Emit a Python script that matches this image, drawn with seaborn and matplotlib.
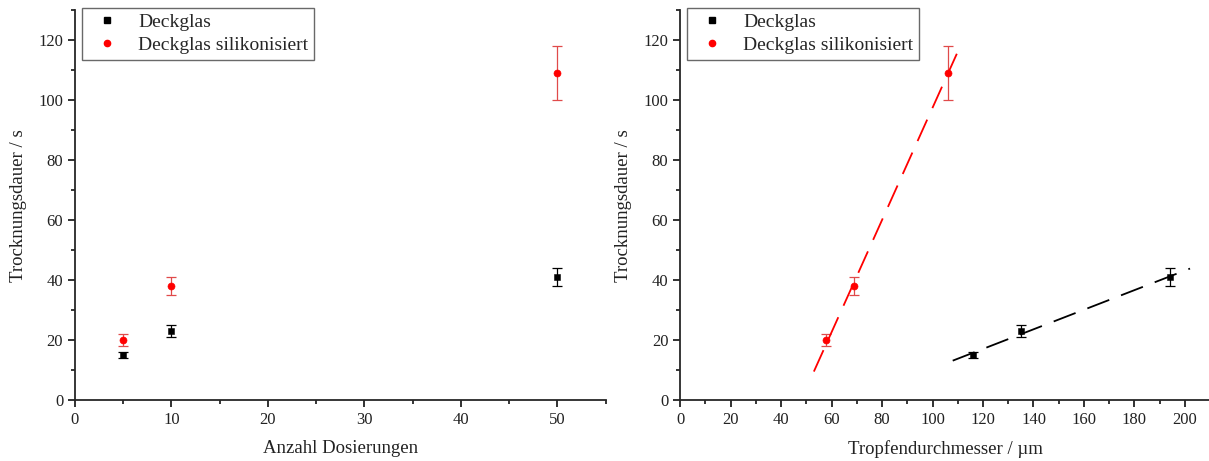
import numpy as np
import pandas as pd
import seaborn as sns
import matplotlib.pyplot as plt
from matplotlib.ticker import MultipleLocator
from matplotlib.lines import Line2D

# data
dosierungen = [5, 10, 50]
dauer_glas = [15, 23, 41]
err_glas = [1, 2, 3]
dauer_sili = [20, 38, 109]
err_sili = [2, 3, 9]

durchmesser_glas = [116, 135, 194]
durchmesser_sili = [58, 69, 106]

fit_range_glas = [108, 202]
fit_range_sili = [53, 111]

labels = ['Deckglas', 'Deckglas silikonisiert']

sns.set_style('ticks')
plt.rcParams['font.family'] = ['Liberation Serif', 'DejaVu Serif']
plt.rcParams['axes.linewidth'] = 1.3

fig = plt.figure(figsize=(12.09, 4.61), dpi=100)
ax1 = fig.add_axes([0.062, 0.132, 0.439, 0.846])
ax2 = fig.add_axes([0.5625, 0.132, 0.4385, 0.846])

black = '#000000'
red = '#ff0000'
red_err = '#e04a4a'


def draw(ax, x_glas, x_sili):
    ax.errorbar(x_glas, dauer_glas, yerr=err_glas, fmt='none', ecolor=black,
                elinewidth=0.9, capsize=3.5, capthick=0.9)
    ax.errorbar(x_sili, dauer_sili, yerr=err_sili, fmt='none', ecolor=red_err,
                elinewidth=0.9, capsize=3.5, capthick=0.9)
    sns.scatterplot(x=x_glas, y=dauer_glas, marker='s', color=black, s=22,
                    edgecolor=black, ax=ax, zorder=3)
    sns.scatterplot(x=x_sili, y=dauer_sili, marker='o', color=red, s=26,
                    edgecolor=red, ax=ax, zorder=3)


def style(ax, xmax, xmajor, xlabel):
    ax.set_xlim(0, xmax)
    ax.set_ylim(0, 130)
    ax.xaxis.set_major_locator(MultipleLocator(xmajor))
    ax.xaxis.set_minor_locator(MultipleLocator(xmajor / 2))
    ax.yaxis.set_major_locator(MultipleLocator(20))
    ax.yaxis.set_minor_locator(MultipleLocator(10))
    ax.set_yticks([0, 20, 40, 60, 80, 100, 120])
    ax.tick_params(which='major', direction='out', length=5, width=1.3,
                   labelsize=12, colors='#222222')
    ax.tick_params(which='minor', direction='out', length=3, width=1.3)
    sns.despine(ax=ax)
    ax.set_xlabel(xlabel, fontsize=13.5, labelpad=9, color='#222222')
    ax.set_ylabel('Trocknungsdauer / s', fontsize=13.5, labelpad=8, color='#222222')
    handles = [
        Line2D([], [], marker='s', color=black, linestyle='none', markersize=4),
        Line2D([], [], marker='o', color=red, linestyle='none', markersize=4.5),
    ]
    leg = ax.legend(handles, labels, loc='upper left', bbox_to_anchor=(0.013, 1.006),
                    fontsize=14, frameon=True, fancybox=False, borderpad=0.3,
                    handlelength=2.0, handletextpad=0.6, labelspacing=0.25,
                    borderaxespad=0)
    leg.get_frame().set_edgecolor('#444444')
    leg.get_frame().set_linewidth(1.0)


draw(ax1, dosierungen, dosierungen)
style(ax1, 55, 10, 'Anzahl Dosierungen')

draw(ax2, durchmesser_glas, durchmesser_sili)
# linear fits
for xs, ys, color, rng in [(durchmesser_glas, dauer_glas, black, fit_range_glas),
                           (durchmesser_sili, dauer_sili, red, fit_range_sili)]:
    k, d = np.polyfit(xs, ys, 1)
    xx = np.array(rng)
    sns.lineplot(x=xx, y=k * xx + d, color=color, linewidth=1.3,
                 ax=ax2, zorder=2).lines[-1].set_dashes([13, 7])
style(ax2, 210, 20, 'Tropfendurchmesser / µm')
for sp in ax2.spines.values():
    sp.set_clip_on(False)

fig.savefig('out.png', dpi=100)
